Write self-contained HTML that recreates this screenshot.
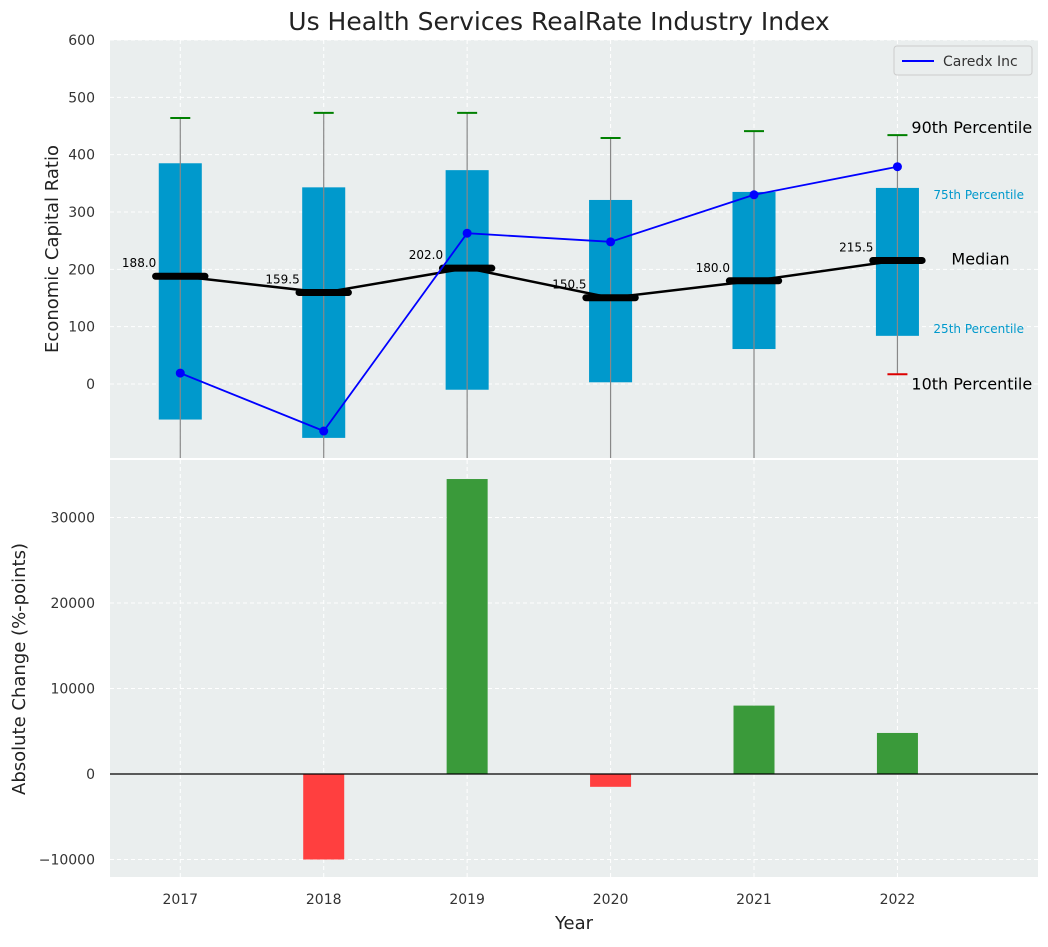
<!DOCTYPE html>
<html><head><meta charset="utf-8"><style>
body{margin:0;background:#fff;font-family:"Liberation Sans","DejaVu Sans",sans-serif}
</style></head><body>
<svg id="c" width="1048" height="942" xmlns="http://www.w3.org/2000/svg" font-family="DejaVu Sans, Liberation Sans, sans-serif">
<text x="559" y="30" font-size="25" text-anchor="middle" fill="#222">Us Health Services RealRate Industry Index</text>
<rect x="110" y="40" width="928" height="418" fill="#eaeeee"/>
<rect x="110" y="460" width="928" height="417" fill="#eaeeee"/>
<g id="topg"></g><g id="botg"></g>
<text x="58" y="249" font-size="18" fill="#222" text-anchor="middle" transform="rotate(-90 58 249)">Economic Capital Ratio</text>
<text x="25" y="669" font-size="18" fill="#222" text-anchor="middle" transform="rotate(-90 25 669)">Absolute Change (%-points)</text>
<text x="574" y="929" font-size="18" fill="#222" text-anchor="middle">Year</text>
<g>
<rect x="894" y="46" width="138" height="29" rx="3" fill="#eaeeee" stroke="#ccc"/>
<line x1="902" y1="61" x2="934" y2="61" stroke="#0000ff" stroke-width="2"/>
<text x="943" y="66" font-size="14" fill="#333">Caredx Inc</text>
</g>
</svg>
<script>
const years=[2017,2018,2019,2020,2021,2022];
const p25=[-62,-94,-10,3,61,84];
const p75=[385,343,373,321,335,342];
const p90=[464,473,473,429,441,434];
const p10=[-200,-200,-200,-200,-200,17];
const medians=[188,159.5,202,150.5,180,215.5];
const caredx=[19,-82,263,248,330,379];
const changes=[0,-10000,34500,-1500,8000,4800];
const topTicks=[0,100,200,300,400,500,600];
const botTicks=[-10000,0,10000,20000,30000];
const NS='http://www.w3.org/2000/svg';
const X=v=>110+(v-2016.51)/(2022.98-2016.51)*928;
const Y1=v=>384-v*0.57333;
const Y2=v=>774-v*0.00855;
function mk(p,t,a){const e=document.createElementNS(NS,t);for(const k in a)e.setAttribute(k,a[k]);p.appendChild(e);return e;}
const topG=document.getElementById('topg'),botG=document.getElementById('botg');
years.forEach(y=>{
 let g=mk(topG,'line',{x1:X(y),x2:X(y),y1:40,y2:458,stroke:'#fff','stroke-dasharray':'4 3'});
 
 
 g=mk(botG,'line',{x1:X(y),x2:X(y),y1:460,y2:877,stroke:'#fff','stroke-dasharray':'4 3'});
 
 
 const t=mk(botG,'text',{x:X(y),y:904,'font-size':14,fill:'#333','text-anchor':'middle'});t.textContent=y;
 
 
});
topTicks.forEach(v=>{
 const g=mk(topG,'line',{x1:110,x2:1038,y1:Y1(v),y2:Y1(v),stroke:'#fff','stroke-dasharray':'4 3'});
 
 
 const t=mk(topG,'text',{x:95,y:Y1(v)+5,'font-size':14,fill:'#333','text-anchor':'end'});t.textContent=v;
 
 
});
botTicks.forEach(v=>{
 const g=mk(botG,'line',{x1:110,x2:1038,y1:Y2(v),y2:Y2(v),stroke:'#fff','stroke-dasharray':'4 3'});
 
 
 const t=mk(botG,'text',{x:95,y:Y2(v)+5,'font-size':14,fill:'#333','text-anchor':'end'});t.textContent=v<0?'\u2212'+(-v):v;
 
 
});
const clip=v=>Math.max(40,Math.min(458,v));
const hw=0.15*928/6.47, mw=0.2*928/6.47;
years.forEach((y,i)=>{
 const x=X(y);
 let e=mk(topG,'rect',{x:x-hw,y:Y1(p75[i]),width:2*hw,height:Y1(p25[i])-Y1(p75[i]),fill:'#0099cc'});
 
 
 e=mk(topG,'line',{x1:x,x2:x,y1:clip(Y1(p10[i])),y2:Y1(p90[i]),stroke:'#888','stroke-width':1.2});
 
 
 e=mk(topG,'line',{x1:x-10,x2:x+10,y1:Y1(p90[i]),y2:Y1(p90[i]),stroke:'#008000','stroke-width':2});
 
 
 if(Y1(p10[i])<458){e=mk(topG,'line',{x1:x-10,x2:x+10,y1:Y1(p10[i]),y2:Y1(p10[i]),stroke:'#dd0000','stroke-width':2});
 
 }
 e=mk(topG,'line',{x1:x-mw+4,x2:x+mw-4,y1:Y1(medians[i]),y2:Y1(medians[i]),stroke:'#000','stroke-width':7,'stroke-linecap':'round'});
 
 
 const t=mk(topG,'text',{x:x-24,y:Y1(medians[i])-9,'font-size':12,fill:'#000','text-anchor':'end'});t.textContent=medians[i].toFixed(1);
 
 
 const c=changes[i];
 e=mk(botG,'rect',{x:x-20.5,y:Math.min(Y2(c),Y2(0)),width:41,height:Math.abs(Y2(c)-Y2(0)),fill:c>=0?'#3a9a3a':'#ff3f3f'});
 
 
});
let e=mk(topG,'polyline',{points:years.map((y,i)=>X(y)+','+Y1(medians[i])).join(' '),fill:'none',stroke:'#000','stroke-width':2.5});


e=mk(topG,'polyline',{points:years.map((y,i)=>X(y)+','+Y1(caredx[i])).join(' '),fill:'none',stroke:'#0000ff','stroke-width':1.8});


years.forEach((y,i)=>{const d=mk(topG,'circle',{cx:X(y),cy:Y1(caredx[i]),r:4.5,fill:'#0000ff'});
 
 });
e=mk(botG,'line',{x1:110,x2:1038,y1:Y2(0),y2:Y2(0),stroke:'#000','stroke-width':1.2});


const L=5, xl=X(years[L]);
[[ '90th Percentile',xl+14,Y1(p90[L])-2,16,'#000','p90-annotation'],
 ['75th Percentile',xl+36,Y1(p75[L])+11,12,'#0099cc','p75-annotation'],
 ['Median',xl+54,Y1(medians[L])+4,16,'#000','median-annotation'],
 ['25th Percentile',xl+36,Y1(p25[L])-3,12,'#0099cc','p25-annotation'],
 ['10th Percentile',xl+14,Y1(p10[L])+15,16,'#000','p10-annotation']].forEach(a=>{
 const t=mk(topG,'text',{x:a[1],y:a[2],'font-size':a[3],fill:a[4]});t.textContent=a[0];
 
 });
</script>
</body></html>
